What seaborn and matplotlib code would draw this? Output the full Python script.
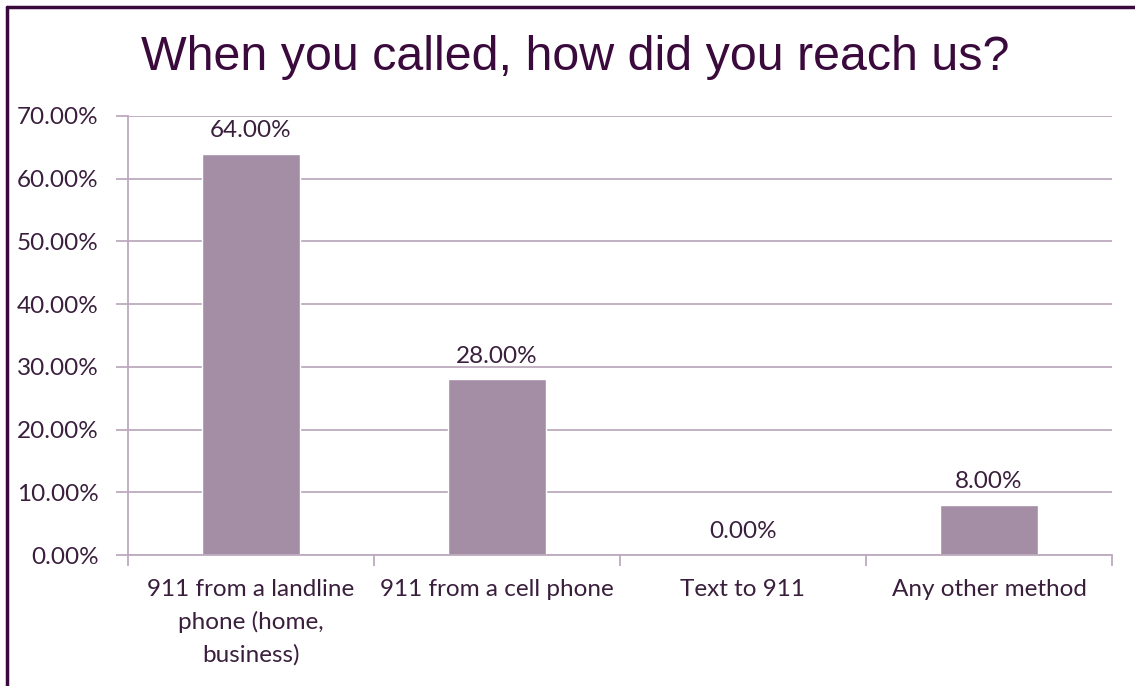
import matplotlib
matplotlib.use("Agg")
import matplotlib.pyplot as plt
import seaborn as sns
import pandas as pd
from matplotlib.lines import Line2D
from matplotlib.ticker import FuncFormatter, MultipleLocator

categories = ["911 from a landline\nphone (home,\nbusiness)", "911 from a cell phone", "Text to 911", "Any other method"]
values = [64.0, 28.0, 0.0, 8.0]
title = "When you called, how did you reach us?"

bar_color = "#A48EA6"
grid_color = "#BCAABE"
text_color = "#3A1F3D"
title_color = "#3A0A3C"
fs = 17.5

sns.set_theme(style="white")
plt.rcParams['font.family'] = ['Lato', 'DejaVu Sans']

fig = plt.figure(figsize=(11.35, 6.86), dpi=100)
ax = fig.add_axes([128/1135, 1-555/686, (1112-128)/1135, (555-116)/686])

df = pd.DataFrame({"cat": categories, "val": values})
sns.barplot(data=df, x="cat", y="val", color=bar_color, width=0.395, ax=ax, saturation=1)

ax.set_ylim(0, 70)
ax.set_xlim(-0.5, 3.5)
ax.yaxis.set_major_locator(MultipleLocator(10))
ax.yaxis.set_major_formatter(FuncFormatter(lambda v, p: f"{v:.2f}%"))
ax.grid(axis="y", color=grid_color, linewidth=1.3)
ax.set_axisbelow(True)
for s in ["top", "right"]:
    ax.spines[s].set_visible(False)
ax.spines["left"].set_color(grid_color)
ax.spines["bottom"].set_color(grid_color)
ax.spines["left"].set_linewidth(1.3)
ax.spines["bottom"].set_linewidth(1.3)
ax.set_xlabel("")
ax.set_ylabel("")

# tick marks at category boundaries
ax.set_xticks([-0.5, 0.5, 1.5, 2.5, 3.5], minor=False)
ax.set_xticklabels([])
ax.set_xticks([0, 1, 2, 3], minor=True)
ax.set_xticklabels(categories, minor=True)
ax.tick_params(axis="x", which="major", length=8, width=1.3, color=grid_color, direction="out", bottom=True)
ax.tick_params(axis="x", which="minor", length=0, pad=17, labelsize=fs, labelcolor=text_color)
for lbl in ax.get_xticklabels(minor=True):
    lbl.set_linespacing(1.62)
ax.tick_params(axis="y", length=9, width=1.3, color=grid_color, direction="out", left=True,
               labelsize=fs, labelcolor=text_color, pad=12)

for i, v in enumerate(values):
    ax.annotate(f"{v:.2f}%", xy=(i, v), xytext=(0, 9), textcoords="offset points",
                ha="center", va="bottom", fontsize=fs, color=text_color)

fig.text(575 / 1135, 1 - 57/686, title, ha="center", va="center",
         fontsize=34.8, color=title_color, family=["Liberation Sans", "DejaVu Sans"])

# frame lines (top and left)
fig.add_artist(Line2D([7/1135, 1], [1-6.5/686, 1-6.5/686], color="#3A0A3C", linewidth=2.5, transform=fig.transFigure))
fig.add_artist(Line2D([7/1135, 7/1135], [0, 1-6.5/686], color="#3A0A3C", linewidth=2.5, transform=fig.transFigure))

fig.savefig("out.png", dpi=100, facecolor="white")
